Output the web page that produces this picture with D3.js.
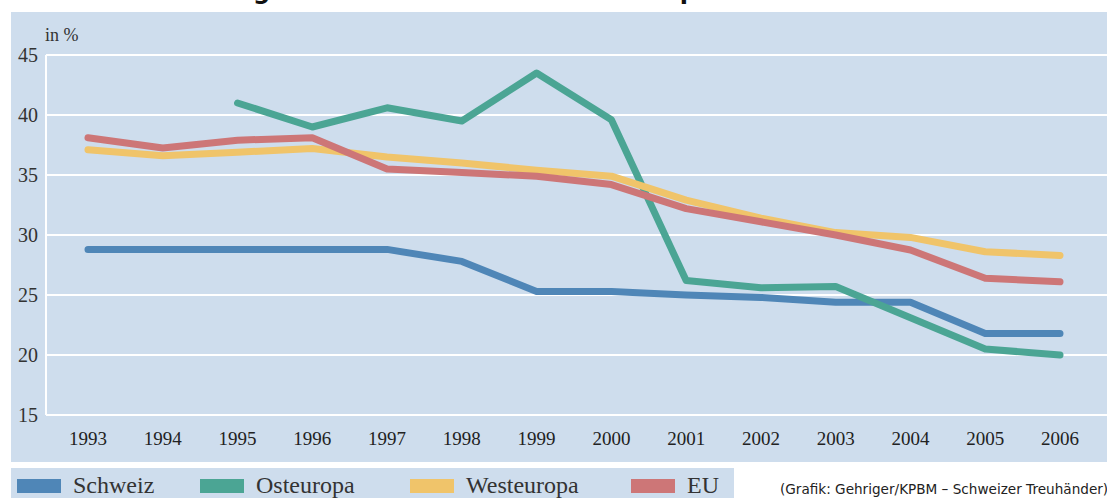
<!DOCTYPE html>
<html>
<head>
<meta charset="utf-8">
<script src="https://cdn.jsdelivr.net/npm/d3@7"></script>
<style>
  html, body { margin: 0; padding: 0; background: #fff; }
  svg { display: block; }
</style>
</head>
<body>
<div id="chart"></div>
<script>
const years = [1993, 1994, 1995, 1996, 1997, 1998, 1999, 2000, 2001, 2002, 2003, 2004, 2005, 2006];
const yTicks = [15, 20, 25, 30, 35, 40, 45];

// values (null = no value)
const schweiz = [28.8, 28.8, 28.8, 28.8, 28.8, 27.8, 25.3, 25.3, 25.0, 24.8, 24.4, 24.4, 21.8, 21.8];
const osteuropa = [null, null, 41.0, 39.0, 40.6, 39.5, 43.5, 39.6, 26.2, 25.6, 25.7, 23.1, 20.5, 20.0];
const westeuropa = [37.1, 36.6, 36.9, 37.2, 36.5, 36.0, 35.4, 34.9, 32.9, 31.4, 30.2, 29.8, 28.6, 28.3];
const eu = [38.1, 37.25, 37.9, 38.1, 35.5, 35.2, 34.9, 34.2, 32.2, 31.1, 30.0, 28.75, 26.4, 26.1];

const seriesNames = ["Schweiz", "Osteuropa", "Westeuropa", "EU"];
const seriesColors = ["#4f86b7", "#4ba594", "#f0c46a", "#cd7677"];
const seriesValues = [schweiz, osteuropa, westeuropa, eu];

const W = 1107, H = 498;
const bg = "#cedded";

const svg = d3.select("#chart").append("svg")
  .attr("width", W)
  .attr("height", H);

// title, cut off by the top edge
svg.append("text")
  .attr("x", 45)
  .attr("y", -1)
  .attr("font-family", "DejaVu Sans, Verdana, sans-serif")
  .attr("font-weight", "bold")
  .attr("font-size", 24)
  .attr("fill", "#111")
  .text("Steuerbelastung: Schweiz – Ost- und Westeuropa");

// main panel
svg.append("rect")
  .attr("x", 11).attr("y", 12)
  .attr("width", W - 11).attr("height", 450)
  .attr("fill", bg);

const x = d3.scaleLinear().domain([1993, 2006]).range([88, 1060]);
const y = d3.scaleLinear().domain([15, 45]).range([415, 55]);

// gridlines
svg.append("g")
  .selectAll("line")
  .data(yTicks)
  .join("line")
    .attr("x1", 46).attr("x2", W)
    .attr("y1", d => y(d)).attr("y2", d => y(d))
    .attr("stroke", "#fff")
    .attr("stroke-width", 2);

svg.append("line")
  .attr("x1", 46).attr("x2", 46)
  .attr("y1", y(45)).attr("y2", y(15))
  .attr("stroke", "#fff")
  .attr("stroke-width", 2);

// y labels
svg.append("g")
  .selectAll("text")
  .data(yTicks)
  .join("text")
    .attr("x", 38)
    .attr("y", d => y(d) + 7)
    .attr("text-anchor", "end")
    .attr("font-family", "Liberation Serif, serif")
    .attr("font-size", 20)
    .attr("fill", "#333")
    .text(d => d);

svg.append("text")
  .attr("x", 45).attr("y", 41)
  .attr("font-family", "Liberation Serif, serif")
  .attr("font-size", 18)
  .attr("fill", "#333")
  .text("in %");

// x labels
svg.append("g")
  .selectAll("text")
  .data(years)
  .join("text")
    .attr("x", d => x(d))
    .attr("y", 445)
    .attr("text-anchor", "middle")
    .attr("font-family", "Liberation Serif, serif")
    .attr("font-size", 19)
    .attr("fill", "#222")
    .text(d => d);

// lines
const line = d3.line()
  .defined(d => d[1] != null)
  .x(d => x(d[0]))
  .y(d => y(d[1]));

svg.append("g")
  .selectAll("path")
  .data(seriesValues)
  .join("path")
    .attr("d", vals => line(vals.map((v, i) => [years[i], v])))
    .attr("fill", "none")
    .attr("stroke", (d, i) => seriesColors[i])
    .attr("stroke-width", 7)
    .attr("stroke-linecap", "round")
    .attr("stroke-linejoin", "round");

// legend panel
svg.append("rect")
  .attr("x", 11).attr("y", 468)
  .attr("width", 723).attr("height", 30)
  .attr("fill", bg);

const legendX = [17, 200, 410, 631];
const leg = svg.append("g")
  .selectAll("g")
  .data(seriesNames)
  .join("g")
    .attr("transform", (d, i) => `translate(${legendX[i]}, 0)`);

leg.append("rect")
  .attr("x", 0).attr("y", 479)
  .attr("width", 44).attr("height", 14)
  .attr("fill", (d, i) => seriesColors[i]);

leg.append("text")
  .attr("x", 56).attr("y", 493)
  .attr("font-family", "Liberation Serif, serif")
  .attr("font-size", 24)
  .attr("fill", "#333")
  .text(d => d);

// credit
svg.append("text")
  .attr("x", 780).attr("y", 494)
  .attr("font-family", "DejaVu Sans, Verdana, sans-serif")
  .attr("font-size", 13.6)
  .attr("fill", "#222")
  .text("(Grafik: Gehriger/KPBM – Schweizer Treuhänder)");
</script>
</body>
</html>
